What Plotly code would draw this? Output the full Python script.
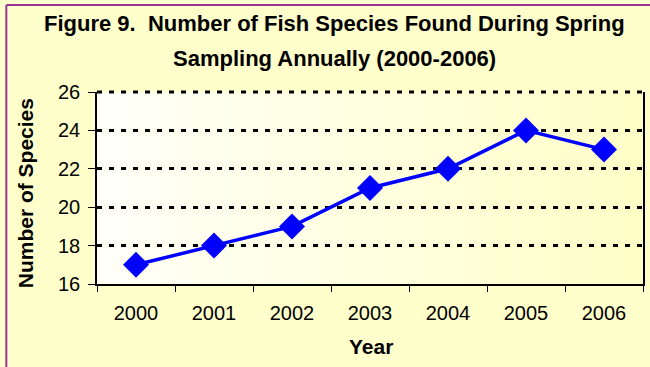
import plotly.graph_objects as go

years = ["2000", "2001", "2002", "2003", "2004", "2005", "2006"]
species = [17, 18, 19, 21, 22, 24, 23]
y_ticks = [16, 18, 20, 22, 24, 26]

title_line1 = "Figure 9.\u00a0 Number of Fish Species Found During Spring"
title_line2 = "Sampling Annually (2000-2006)"
x_title = "Year"
y_title = "Number of Species"

FONT = "Liberation Sans, Arial, sans-serif"
W, H = 650, 367
L, R, T, B = 97, 5, 92, 83
pw, ph = W - L - R, H - T - B

fig = go.Figure()
fig.add_trace(go.Scatter(
    x=years, y=species, mode="lines+markers",
    line=dict(color="#0000FF", width=3.5),
    marker=dict(symbol="diamond", size=20, color="#0000FF"),
    showlegend=False, hoverinfo="skip",
))

# gradient plot background (white -> light yellow)
shapes = []
n = 40
c0 = (255, 255, 248)
c1 = (255, 255, 200)
for i in range(n):
    t = i / (n - 1)
    col = tuple(round(c0[k] + (c1[k] - c0[k]) * t) for k in range(3))
    shapes.append(dict(type="rect", xref="paper", yref="paper",
                       x0=i / n, x1=(i + 1) / n + 0.002, y0=0, y1=1,
                       fillcolor="rgb(%d,%d,%d)" % col, line=dict(width=0),
                       layer="below"))

# dotted gridline along the top edge of the plot (plotly hides the edge one)
shapes.append(dict(type="line", xref="paper", yref="paper", x0=0, x1=1,
                   y0=1, y1=1, layer="above",
                   line=dict(color="#000000", width=3, dash="5px,7px")))

# purple frame (left and top edges visible)
fx = (6 - L) / pw
fy = 1 + (T - 5) / ph
shapes.append(dict(type="line", xref="paper", yref="paper", x0=fx, x1=fx,
                   y0=-1, y1=fy, line=dict(color="#993399", width=2)))
shapes.append(dict(type="line", xref="paper", yref="paper", x0=fx, x1=1.2,
                   y0=fy, y1=fy, line=dict(color="#993399", width=2)))

def py(pix):
    return 1 + (T - pix) / ph

def px(pix):
    return (pix - L) / pw

annotations = [
    dict(text="<b>%s</b>" % title_line1, xref="paper", yref="paper",
         x=px(335), y=py(24), xanchor="center", yanchor="middle",
         showarrow=False, font=dict(family=FONT, size=22, color="#000000")),
    dict(text="<b>%s</b>" % title_line2, xref="paper", yref="paper",
         x=px(335), y=py(58), xanchor="center", yanchor="middle",
         showarrow=False, font=dict(family=FONT, size=22, color="#000000")),
    dict(text="<b>%s</b>" % x_title, xref="paper", yref="paper",
         x=px(372), y=py(346), xanchor="center", yanchor="middle",
         showarrow=False, font=dict(family=FONT, size=21, color="#000000")),
    dict(text="<b>%s</b>" % y_title, xref="paper", yref="paper",
         x=px(25), y=py(193), xanchor="center", yanchor="middle",
         textangle=-90,
         showarrow=False, font=dict(family=FONT, size=21, color="#000000")),
]

fig.update_layout(
    width=W, height=H,
    margin=dict(l=L, r=R, t=T, b=B, pad=0),
    paper_bgcolor="#FFFFCC",
    plot_bgcolor="#FFFFE6",
    shapes=shapes,
    annotations=annotations,
    font=dict(family=FONT, color="#000000"),
    xaxis=dict(
        type="category", tickson="boundaries", ticks="outside", ticklen=6,
        tickcolor="#000000", tickwidth=1,
        showline=True, linecolor="#000000", linewidth=1.5,
        showgrid=False, tickfont=dict(size=20), ticklabelstandoff=10,
        range=[-0.5, 6.5],
    ),
    yaxis=dict(
        range=[16, 26], tickvals=y_ticks, ticks="outside", ticklen=7,
        tickcolor="#000000", tickwidth=1,
        showline=True, linecolor="#000000", linewidth=1.5, mirror=True,
        showgrid=True, gridcolor="#000000", gridwidth=3, griddash="5px,7px",
        zeroline=False, tickfont=dict(size=20), ticklabelstandoff=4,
    ),
)

fig.write_html("out.html")
